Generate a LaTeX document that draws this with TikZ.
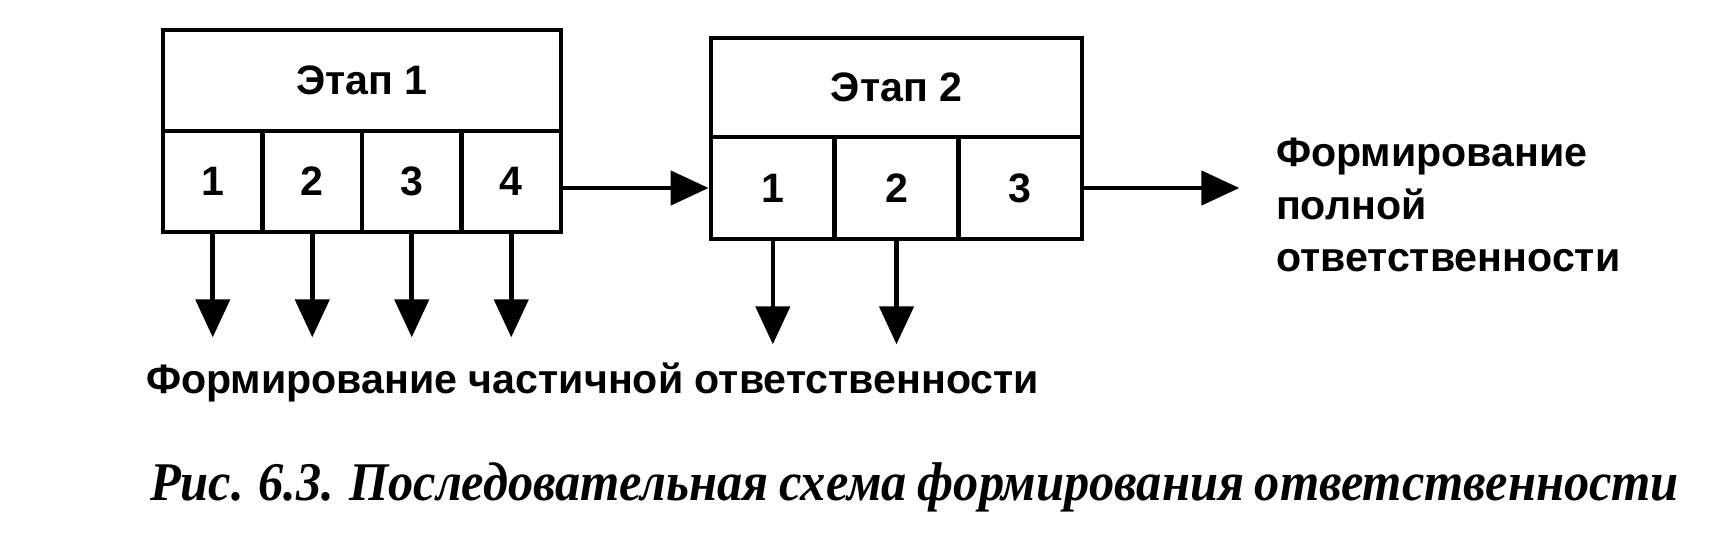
\documentclass[tikz,border=0pt]{standalone}
\usepackage{fontspec}
\setmainfont{Liberation Sans}
\newfontfamily\capfont[FakeStretch=0.925, WordSpace=0.85]{Liberation Serif}
\usetikzlibrary{arrows.meta}

\begin{document}
\begin{tikzpicture}[x=0.01cm, y=-0.01cm, line width=1.3pt,
  every node/.style={font=\bfseries\fontsize{11.7}{14.9}\selectfont},
  head/.style={draw, inner sep=0pt},
  cell/.style={draw, inner sep=0pt},
  >={Triangle[length=0.38cm, width=0.34cm]}]
  \useasboundingbox (0,0) rectangle (1710,545);
  % Этап 1
  \node[head, minimum width=3.98cm, minimum height=1.01cm] (h1) at (362,80.5) {Этап 1};
  \foreach \i/\x in {1/212.75, 2/312.25, 3/411.75, 4/511.25}{
    \node[cell, minimum width=0.995cm, minimum height=1.01cm] (a\i) at (\x,181.5) {\i};
  }
  % Этап 2
  \node[head, minimum width=3.71cm, minimum height=0.99cm] (h2) at (896.5,87.5) {Этап 2};
  \foreach \i/\x in {1/772.8, 2/896.5, 3/1020.2}{
    \node[cell, minimum width=1.237cm, minimum height=1.02cm] (b\i) at (\x,188) {\i};
  }
  % стрелки
  \foreach \i in {1,...,4}{
    \draw[->] (a\i.south) -- ++(0,103);
  }
  \foreach \i in {1,2}{
    \draw[->] (b\i.south) -- ++(0,103);
  }
  \draw[->] (a4.east |- b1.west) -- (b1.west);
  \draw[->] (b3.east) -- ++(155,0);
  \node[anchor=west, align=left] (full) at (1262,205) {Формирование\\полной\\ответственности};
  \node[anchor=west] (part) at (132,382) {Формирование частичной ответственности};
  \node[anchor=west, font=\capfont\bfseries\itshape\fontsize{15.5}{18}\selectfont] (cap) at (136,487)
    {Рис. 6.3. Последовательная схема формирования ответственности};
\end{tikzpicture}
\end{document}
